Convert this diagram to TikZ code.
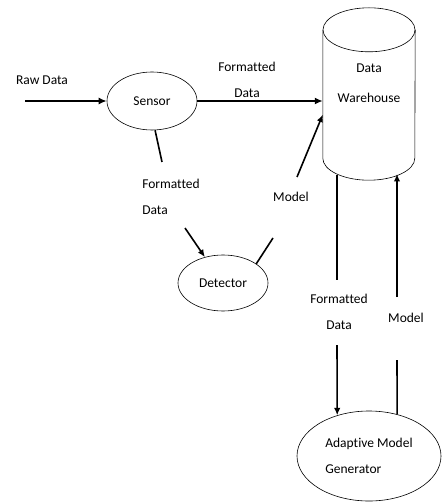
\documentclass[tikz,border=0pt]{standalone}
\usepackage{fontspec}
\setmainfont{Carlito}[Ligatures=NoCommon]
\usetikzlibrary{shapes.geometric,arrows.meta}

\begin{document}
\begin{tikzpicture}[x=1pt,y=1pt,line join=round,
  font=\fontsize{13.5}{26}\selectfont,
  proc/.style={draw,ellipse,line width=0.6pt,inner sep=0pt},
  flow/.style={line width=2.2pt,-{Latex[length=8pt,width=7pt]}},
  link/.style={line width=1.6pt},
  arr/.style={link,-{Latex[length=7.5pt,width=6.5pt]}},
  lbl/.style={align=center,inner sep=1pt}]
  \useasboundingbox (0,0) rectangle (441,-502);
  % processes
  \node[proc,minimum width=90pt,minimum height=58pt] (sensor) at (152,-101) {Sensor};
  \node[proc,minimum width=90pt,minimum height=56pt] (detector) at (223,-283) {Detector};
  \node[proc,align=left,minimum width=144pt,minimum height=90pt] (amg) at (369,-456) {Adaptive Model\\Generator};
  % data warehouse
  \node[minimum width=92pt,minimum height=128pt,inner sep=0pt] (wh) at (369,-94) {};
  \draw[line width=0.6pt] (wh.north west) -- (wh.south west)
    arc[start angle=180,end angle=360,x radius=46,y radius=22] -- (wh.north east);
  \draw[line width=0.6pt] (wh.north) ellipse[x radius=46,y radius=22];
  \node[lbl] (whtext) at (369,-83) {Data\\[4pt]Warehouse};
  % raw data in
  \coordinate (rawin) at (25,-101);
  \node (rawlbl) at (42,-80) {Raw Data};
  \draw[flow] (rawin) -- (sensor.west);
  \draw[flow] (sensor.east) -- (sensor.east -| wh.west);
  \node[lbl] (fd1) at (247,-80) {Formatted\\Data};
  % sensor to detector
  \node[align=left,inner sep=1pt] (fd2) at (171,-197) {Formatted\\Data};
  \coordinate (fd2in) at (162,-162);
  \coordinate (fd2out) at (185,-228);
  \draw[link] (sensor.-84) -- (fd2in);
  \draw[arr] (fd2out) -- (detector.125);
  % detector to warehouse
  \node (m1) at (291,-197) {Model};
  \coordinate (m1in) at (273,-238);
  \coordinate (m1out) at (297,-177);
  \draw[link] (detector.30) -- (m1in);
  \draw[arr] (m1out) -- (wh.204);
  % warehouse to generator
  \node[lbl] (fd3) at (339,-312) {Formatted\\Data};
  \coordinate (whbotl) at (337,-175);
  \coordinate (fd3in) at (337,-280);
  \coordinate (fd3out) at (337,-345);
  \draw[link] (whbotl) -- (fd3in);
  \draw[arr] (fd3out) -- (amg.128);
  % generator to warehouse
  \node (m2) at (406,-318) {Model};
  \coordinate (whbotr) at (397,-174);
  \coordinate (m2in) at (397,-360);
  \coordinate (m2out) at (397,-297);
  \draw[link] (amg.56) -- (m2in);
  \draw[arr] (m2out) -- (whbotr);
\end{tikzpicture}
\end{document}
